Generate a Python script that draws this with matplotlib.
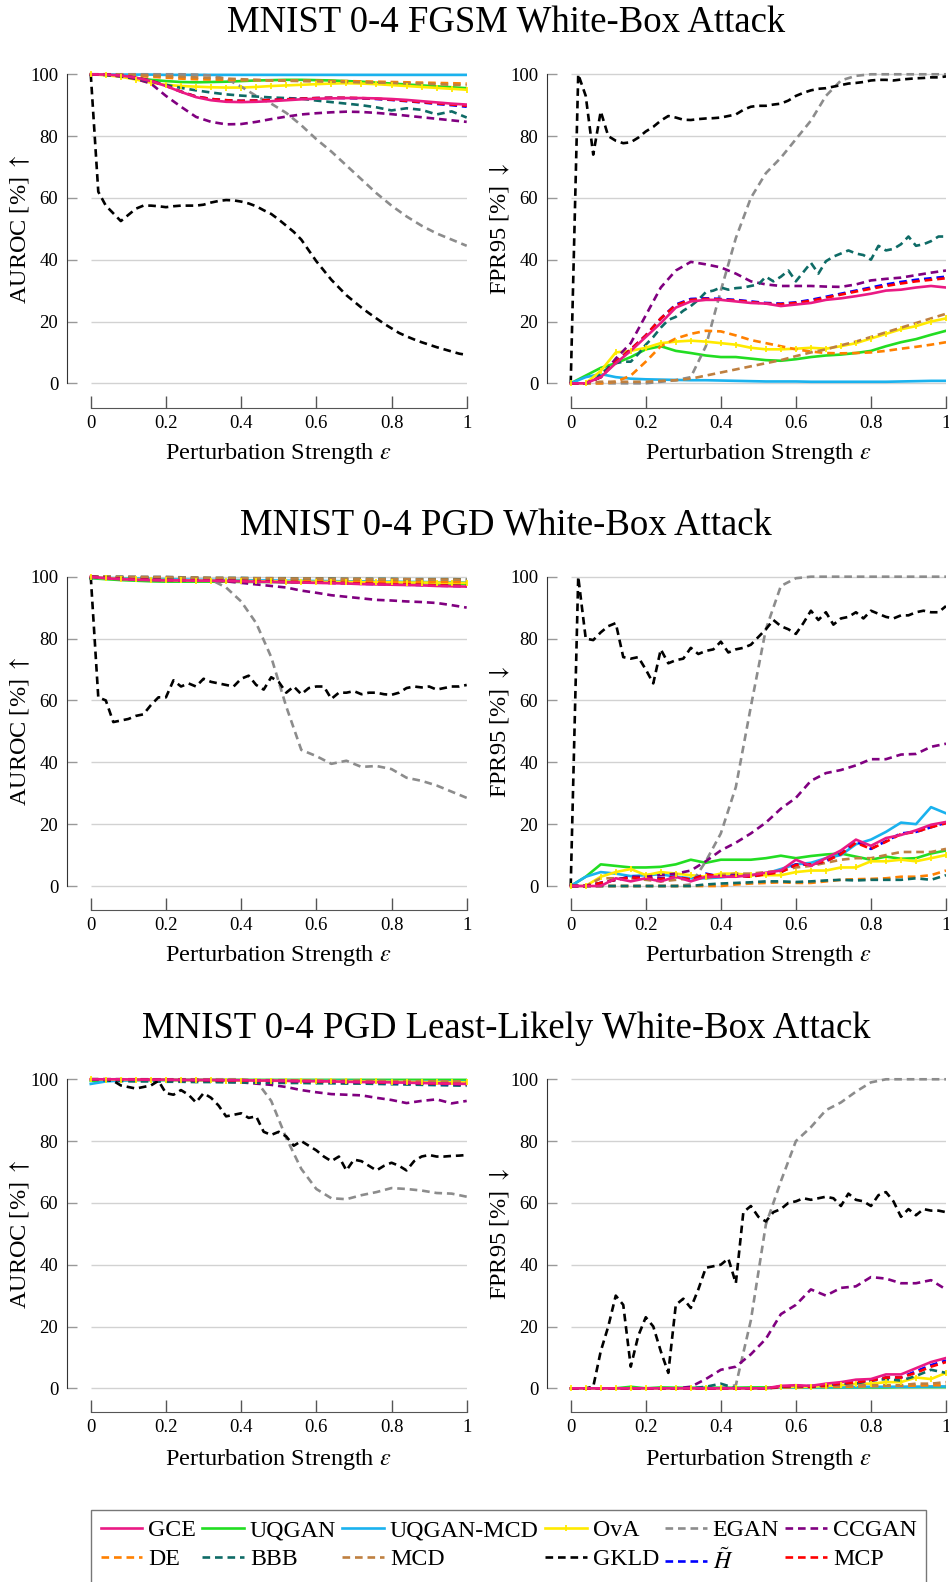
import numpy as np
import matplotlib
matplotlib.use("Agg")
import matplotlib.pyplot as plt
from matplotlib.lines import Line2D

plt.rcParams['font.family'] = ['Liberation Serif', 'DejaVu Serif']
plt.rcParams['mathtext.fontset'] = 'stix'
plt.rcParams['lines.scale_dashes'] = False

titles = ['MNIST 0-4 FGSM White-Box Attack',
          'MNIST 0-4 PGD White-Box Attack',
          'MNIST 0-4 PGD Least-Likely White-Box Attack']
metrics = [r'AUROC [%] $\uparrow$', r'FPR95 [%] $\downarrow$']
xlabel = r'Perturbation Strength $\epsilon$'
xtick_vals = [0, 0.2, 0.4, 0.6, 0.8, 1]
xtick_labels = ['0', '0.2', '0.4', '0.6', '0.8', '1']
ytick_vals = [0, 20, 40, 60, 80, 100]

methods = ['GCE', 'UQGAN', 'UQGAN-MCD', 'OvA', 'EGAN', 'CCGAN',
           'DE', 'BBB', 'MCD', 'GKLD', r'$\tilde{H}$', 'MCP']

# every list runs from eps=0 to eps=1 in equal steps (26 -> 0.04, 51 -> 0.02)

# --- FGSM, AUROC ---
fgsm_auroc_gce = [100, 99.9, 99.6, 98.9, 97.8, 96.2, 94.3, 92.6, 91.6, 91.1, 91.0, 91.1, 91.3,
                  91.6, 91.9, 92.1, 92.2, 92.3, 92.3, 92.2, 92.0, 91.7, 91.3, 90.9, 90.5, 90.2]
fgsm_auroc_uqgan = [100, 99.8, 99.4, 98.8, 98.2, 97.8, 97.5, 97.4, 97.5, 97.6, 97.8, 98.0, 98.1,
                    98.2, 98.2, 98.1, 98.0, 97.8, 97.6, 97.3, 97.0, 96.7, 96.4, 96.1, 95.8, 95.5]
fgsm_auroc_uqgan_mcd = [100, 99.9, 99.9, 99.9, 99.9, 99.8, 99.8, 99.8, 99.8, 99.8, 99.8, 99.8, 99.8,
                        99.8, 99.8, 99.8, 99.8, 99.8, 99.8, 99.8, 99.8, 99.8, 99.8, 99.8, 99.8, 99.8]
fgsm_auroc_ova = [100, 99.7, 99.2, 98.3, 97.3, 96.6, 96.2, 96.0, 95.8, 95.7, 95.7, 95.9, 96.2,
                  96.4, 96.6, 96.8, 97.0, 97.1, 97.0, 96.8, 96.5, 96.2, 95.9, 95.6, 95.3, 95.0]
fgsm_auroc_egan = [100, 100, 100, 100, 100, 100, 100, 99.9, 99.6, 98.6, 96.0, 93.0, 90.5,
                   87.5, 83.5, 79.0, 75.0, 70.5, 66.0, 61.5, 57.5, 54.0, 51.0, 48.5, 46.5, 44.5]
fgsm_auroc_ccgan = [100, 99.8, 99.3, 98.5, 97.0, 93.0, 89.5, 86.2, 84.6, 83.8, 83.9, 84.6, 85.5,
                    86.3, 87.0, 87.4, 87.7, 87.9, 87.8, 87.5, 87.1, 86.6, 86.1, 85.6, 85.1, 84.6]
fgsm_auroc_de = [100, 99.9, 99.7, 99.5, 99.2, 98.9, 98.6, 98.4, 98.3, 98.2, 98.1, 98.1, 98.0,
                 98.0, 97.9, 97.9, 97.8, 97.8, 97.7, 97.6, 97.5, 97.4, 97.3, 97.2, 97.1, 97.0]
fgsm_auroc_bbb = [100, 99.8, 99.4, 98.7, 97.7, 96.6, 95.6, 94.8, 94.1, 93.5, 93.1, 92.8, 92.5,
                  92.3, 92.1, 91.5, 91.0, 90.5, 90.0, 89.3, 88.3, 89.0, 88.5, 87.0, 88.0, 86.0]
fgsm_auroc_mcd = [100, 100, 99.9, 99.8, 99.6, 99.4, 99.2, 99.0, 98.8, 98.6, 98.4, 98.2, 98.0,
                  97.9, 97.8, 97.7, 97.6, 97.5, 97.4, 97.3, 97.2, 97.1, 97.0, 96.8, 96.6, 96.5]
fgsm_auroc_gkld = [100, 62, 57.5, 55, 52.5, 54.5, 56.5, 57.5, 57.5, 57.3, 57, 57.3, 57.5, 57.5,
                   57.5, 57.8, 58.5, 59, 59.3, 59.2, 58.8, 58.2, 57.3, 56, 54.8, 53, 51, 49, 46.5,
                   43, 39.5, 36.5, 33.5, 31, 28.5, 26.5, 24.5, 22.7, 21, 19.3, 17.8, 16.3, 15.2,
                   14.2, 13.3, 12.5, 11.7, 11, 10.3, 9.6, 9.2]
fgsm_auroc_htilde = [100, 99.9, 99.6, 98.9, 97.9, 96.3, 94.4, 92.8, 92.0, 91.6, 91.4, 91.5, 91.7,
                     91.9, 92.1, 92.3, 92.4, 92.3, 92.2, 92.0, 91.7, 91.3, 90.9, 90.4, 90.0, 89.5]
fgsm_auroc_mcp = [100, 99.9, 99.6, 98.9, 97.9, 96.3, 94.4, 92.8, 92.0, 91.6, 91.4, 91.5, 91.7,
                  91.9, 92.1, 92.3, 92.4, 92.4, 92.3, 92.1, 91.8, 91.4, 91.0, 90.6, 90.2, 89.8]

# --- FGSM, FPR95 ---
fgsm_fpr_gce = [0, 0, 2, 6.5, 10.5, 15, 19.5, 24.5, 26.5, 27, 27, 26.5, 26,
                25.8, 25, 25.5, 26, 27, 27.5, 28.2, 29, 30, 30.3, 31, 31.5, 31]
fgsm_fpr_uqgan = [0, 2.5, 5, 6.5, 8.5, 11, 12, 10.5, 9.8, 9, 8.5, 8.5, 8,
                  7.5, 7.3, 7.8, 8.5, 9, 9.3, 9.8, 10.5, 12, 13.3, 14.3, 15.7, 17]
fgsm_fpr_uqgan_mcd = [0, 2, 3, 2, 1.5, 1.3, 1.2, 1.1, 1, 1, 0.9, 0.8, 0.7,
                      0.6, 0.6, 0.6, 0.5, 0.5, 0.5, 0.5, 0.5, 0.5, 0.6, 0.7, 0.8, 0.8]
fgsm_fpr_ova = [0, 0, 4, 10, 10.5, 11.5, 13, 13.5, 13.8, 13.5, 13, 12.5, 11.5,
                11, 11, 11.2, 11.5, 11.2, 12, 13, 14.5, 16, 17.5, 18.5, 20, 21]
fgsm_fpr_egan = [0, 0, 0, 0, 0, 0, 0.5, 1, 2, 12, 30, 47, 60,
                 68, 73, 79, 85, 93, 98, 99.5, 100, 100, 100, 100, 100, 100]
fgsm_fpr_ccgan = [0, 0, 2, 8, 13, 22, 31, 36.5, 39.3, 38.5, 37.5, 35.5, 33,
                  32, 31.5, 31.5, 31.5, 31.3, 31.2, 32, 33.3, 33.8, 34.2, 35, 35.8, 36.5]
fgsm_fpr_de = [0, 0, 0, 0.5, 2.5, 7, 12, 14.5, 16, 17, 16.8, 15.5, 14,
               13, 12, 11, 10.3, 9.8, 9.7, 9.8, 10, 10.5, 11.2, 11.8, 12.5, 13.3]
fgsm_fpr_bbb = [0, 0, 0, 0.5, 3, 5, 6.5, 7, 7, 9.5, 12.5, 15, 18, 20.5, 21.5, 23.5, 25, 27,
                29.5, 30, 31, 30.3, 30.8, 31, 31.5, 32, 34.5, 33, 34.5, 36.5, 33, 36, 39, 35.5,
                39.5, 41, 42, 43, 42, 41.5, 40, 44.5, 43, 43.5, 45, 47.5, 44.5, 45, 46, 47.5, 47.5]
fgsm_fpr_mcd = [0, 0, 0.5, 0.5, 0.5, 0.5, 0.8, 1, 1.5, 2.5, 3.5, 4.5, 5.5,
                6.5, 7.5, 8.8, 10, 11, 12.3, 13.5, 15, 16.5, 18, 19.5, 21, 22.5]
fgsm_fpr_gkld = [0, 100, 93, 74, 88, 80, 78.5, 77.7, 78, 79.5, 81.5, 83, 85, 86.5, 86, 85.3,
                 85.2, 85.5, 85.7, 85.8, 86, 86.5, 87, 88.5, 89.5, 89.8, 89.8, 90.2, 90.5, 91.5,
                 93, 94, 94.8, 95.3, 95.5, 96, 96.5, 97, 97.2, 97.5, 98, 98.2, 98.2, 98, 98.3,
                 98.5, 98.7, 98.8, 99, 99, 99.3]
fgsm_fpr_htilde = [0, 0, 2, 7, 11, 15.5, 21, 25.5, 27.3, 27.5, 27.3, 27, 26.5,
                   26, 25.8, 26.2, 27, 28, 29, 30, 31, 32, 32.8, 33.5, 34, 34.5]
fgsm_fpr_mcp = [0, 0, 2, 7, 11, 15.5, 21, 25.3, 27, 27.3, 27.1, 26.8, 26.3,
                25.8, 25.6, 26, 26.7, 27.7, 28.7, 29.7, 30.6, 31.5, 32.3, 33, 33.5, 34]

# --- PGD, AUROC ---
pgd_auroc_gce = [100, 99.5, 99.2, 99.0, 98.9, 98.8, 98.8, 98.7, 98.7, 98.6, 98.5, 98.4, 98.3,
                 98.2, 98.1, 98.0, 97.9, 97.8, 97.6, 97.5, 97.4, 97.3, 97.2, 97.0, 96.9, 96.8]
pgd_auroc_uqgan = [99.5, 99.2, 98.9, 98.7, 98.5, 98.4, 98.4, 98.4, 98.4, 98.4, 98.3, 98.3, 98.3,
                   98.2, 98.2, 98.2, 98.1, 98.1, 98.0, 98.0, 98.0, 97.9, 97.9, 97.8, 97.8, 97.7]
pgd_auroc_uqgan_mcd = [99.6, 99.6, 99.5, 99.4, 99.3, 99.2, 99.1, 99.0, 99.0, 98.9, 98.9, 98.8, 98.8,
                       98.7, 98.7, 98.6, 98.6, 98.5, 98.5, 98.4, 98.4, 98.3, 98.3, 98.2, 98.2, 98.1]
pgd_auroc_ova = [99.8, 99.5, 99.3, 99.1, 99.0, 98.9, 98.8, 98.7, 98.7, 98.6, 98.6, 98.5, 98.5,
                 98.4, 98.4, 98.3, 98.3, 98.3, 98.2, 98.2, 98.2, 98.1, 98.1, 98.1, 98.0, 98.0]
pgd_auroc_egan = [100, 100, 100, 100, 100, 100, 99.8, 99.5, 99, 96.5, 92, 85, 74,
                  58, 44, 42, 39.5, 40.5, 38.5, 38.8, 37.8, 35, 34, 32.5, 30.5, 28.5]
pgd_auroc_ccgan = [100, 99.8, 99.6, 99.5, 99.3, 99.2, 99, 98.9, 98.8, 98.5, 98, 97.5, 97,
                   96.5, 95.5, 94.8, 94, 93.5, 93, 92.5, 92.3, 92, 91.8, 91.5, 90.8, 90]
pgd_auroc_de = [100, 99.9, 99.8, 99.7, 99.6, 99.5, 99.4, 99.3, 99.2, 99.1, 99.0, 98.9, 98.9,
                98.8, 98.8, 98.7, 98.7, 98.6, 98.6, 98.5, 98.5, 98.4, 98.4, 98.3, 98.3, 98.2]
pgd_auroc_bbb = [100, 99.9, 99.9, 99.8, 99.8, 99.7, 99.7, 99.7, 99.6, 99.6, 99.6, 99.5, 99.5,
                 99.5, 99.4, 99.4, 99.4, 99.3, 99.3, 99.3, 99.3, 99.2, 99.2, 99.2, 99.2, 99.1]
pgd_auroc_mcd = [100, 100, 99.9, 99.9, 99.8, 99.8, 99.7, 99.7, 99.6, 99.6, 99.5, 99.5, 99.5,
                 99.4, 99.4, 99.4, 99.3, 99.3, 99.3, 99.2, 99.2, 99.2, 99.1, 99.1, 99.1, 99.0]
pgd_auroc_gkld = [100, 61, 60, 53, 53.5, 54, 55, 55.5, 58.5, 61, 61, 66.5, 64.5, 65.5, 64.5, 67,
                  66, 65.5, 65, 64.5, 67, 68, 65, 63.5, 67.5, 66, 62.5, 64.5, 62, 64, 64.5, 64.5,
                  60.5, 62.5, 62.5, 63, 62, 62.5, 62.5, 62, 61.8, 62.5, 64, 64.5, 64.2, 64.5,
                  63.5, 64, 64.5, 64.5, 65]
pgd_auroc_htilde = [100, 99.6, 99.3, 99.1, 99.0, 98.9, 98.8, 98.8, 98.7, 98.7, 98.6, 98.5, 98.4,
                    98.3, 98.2, 98.1, 98.0, 97.9, 97.7, 97.6, 97.5, 97.4, 97.3, 97.1, 97.0, 96.9]
pgd_auroc_mcp = [100, 99.6, 99.3, 99.1, 99.0, 98.9, 98.8, 98.8, 98.7, 98.7, 98.6, 98.5, 98.4,
                 98.3, 98.2, 98.1, 98.0, 97.9, 97.8, 97.7, 97.6, 97.5, 97.4, 97.2, 97.1, 97.0]

# --- PGD, FPR95 ---
pgd_fpr_gce = [0, 0, 0, 2.5, 1.5, 2.5, 1.5, 3, 1.5, 3, 3, 3, 3.5,
               4.3, 5, 8.5, 6.5, 9, 11.5, 15, 13, 15.5, 16.5, 18, 19.8, 20.7]
pgd_fpr_uqgan = [0, 3, 7, 6.5, 6, 6, 6.2, 7, 8.5, 7.5, 8.5, 8.5, 8.5,
                 9, 9.8, 9, 9.7, 10.2, 10.5, 9.5, 8.5, 9.5, 8.8, 9, 10.5, 11.5]
pgd_fpr_uqgan_mcd = [0, 3, 4.5, 4, 3.2, 3.5, 3.8, 3, 2.5, 2.5, 2.8, 3.3, 3.5,
                     4, 5.5, 7, 7.5, 9, 10, 13.5, 15, 17.5, 20.5, 20, 25.5, 23.5]
pgd_fpr_ova = [0, 0, 3, 4.5, 5.5, 3.5, 4.5, 4, 3.5, 3, 4, 4, 3.5,
               3.5, 3.5, 4.5, 5, 5, 6, 6, 8, 8, 8.5, 8, 9, 10]
pgd_fpr_egan = [0, 0, 0, 0, 0, 0, 0, 0, 0.5, 8, 17, 32, 58,
                83, 97, 99.5, 100, 100, 100, 100, 100, 100, 100, 100, 100, 100]
pgd_fpr_ccgan = [0, 0, 1, 2, 3, 3, 3.5, 4, 5, 8, 11.5, 14, 17,
                 20.5, 25, 28.5, 34, 36.5, 37.5, 39, 41, 41, 42.5, 42.7, 45, 46]
pgd_fpr_de = [0, 0, 0, 0, 0, 0, 0, 0, 0, 0, 0, 0.5, 0.8,
              1, 1.2, 1, 1, 1.5, 2, 2.2, 2.3, 2.5, 3, 3, 3.5, 5]
pgd_fpr_bbb = [0, 0, 0, 0, 0, 0, 0, 0, 0, 0.5, 0.8, 1, 1.2,
               1.5, 1.5, 1.3, 1.5, 1.8, 2, 1.8, 2, 2, 2, 2.5, 2, 3.5]
pgd_fpr_mcd = [0, 0, 2.5, 2.5, 2.5, 2, 1.5, 2, 2.5, 2.5, 3.5, 4, 4,
               4.5, 5, 6, 6.5, 7.5, 8.5, 9, 9, 10, 11, 11, 11, 12]
pgd_fpr_gkld = [0, 100, 80, 79.5, 82, 84, 85, 74, 73.5, 74, 70, 65.5, 76.5, 72, 73, 73.5, 77,
                75, 76, 76.5, 79, 75.5, 76.5, 77, 78, 80.5, 83, 86, 84, 83, 81.5, 85, 89, 86,
                88.5, 84.5, 86.5, 87, 88.5, 86.5, 89, 88, 87, 86.5, 87.5, 87.5, 88.5, 89, 88.5,
                88.5, 90.5]
pgd_fpr_htilde = [0, 0, 1, 2, 3, 2.5, 2.5, 3, 2, 4, 3, 3.5, 3,
                  4, 4.5, 7, 7, 8, 10.5, 14.5, 12, 14.5, 17, 17.5, 19, 20.5]
pgd_fpr_mcp = [0, 0, 1, 2, 2.8, 2.5, 2.3, 3, 2, 3.8, 3, 3.3, 3,
               3.8, 4.5, 6.8, 7, 8, 10.3, 14, 12, 14.3, 16.8, 17.5, 19, 20.3]

# --- PGD least-likely, AUROC ---
pgdll_auroc_gce = [100, 100, 100, 99.9, 99.9, 99.9, 99.8, 99.8, 99.8, 99.7, 99.7, 99.6, 99.6,
                   99.5, 99.4, 99.4, 99.3, 99.2, 99.1, 99.1, 99.0, 98.9, 98.8, 98.7, 98.6, 98.5]
pgdll_auroc_uqgan = [99.5, 99.6, 99.7, 99.8, 99.8, 99.8, 99.8, 99.8, 99.8, 99.8, 99.8, 99.8, 99.8,
                     99.8, 99.8, 99.8, 99.8, 99.8, 99.8, 99.8, 99.8, 99.8, 99.8, 99.8, 99.8, 99.8]
pgdll_auroc_uqgan_mcd = [98.5, 99.3, 99.6, 99.7, 99.7, 99.7, 99.7, 99.7, 99.7, 99.7, 99.6, 99.6, 99.6,
                         99.6, 99.5, 99.5, 99.5, 99.5, 99.4, 99.4, 99.4, 99.3, 99.3, 99.3, 99.2, 99.2]
pgdll_auroc_ova = [100, 99.9, 99.9, 99.8, 99.8, 99.8, 99.7, 99.7, 99.7, 99.6, 99.6, 99.6, 99.5,
                   99.5, 99.5, 99.4, 99.4, 99.3, 99.3, 99.3, 99.2, 99.2, 99.1, 99.1, 99.0, 99.0]
pgdll_auroc_egan = [100, 100, 100, 100, 100, 100, 100, 100, 100, 100, 100, 99.5, 93,
                    81, 71, 64.5, 61.5, 61.2, 62.5, 63.5, 64.8, 64.5, 64, 63.2, 63, 62]
pgdll_auroc_ccgan = [100, 100, 100, 100, 100, 99.8, 99.7, 99.5, 99.3, 99.2, 99, 98.6, 98.2,
                     97.5, 96.5, 95.8, 95.2, 95, 94.8, 94, 93.3, 92.3, 93, 93.5, 92.2, 93]
pgdll_auroc_de = [100, 100, 99.9, 99.9, 99.9, 99.8, 99.8, 99.8, 99.7, 99.7, 99.7, 99.6, 99.6,
                  99.6, 99.5, 99.5, 99.5, 99.4, 99.4, 99.3, 99.3, 99.3, 99.2, 99.2, 99.1, 99.1]
pgdll_auroc_bbb = [100, 99.6, 99.4, 99.3, 99.3, 99.2, 99.2, 99.1, 99.1, 99.0, 99.0, 98.9, 98.9,
                   98.8, 98.8, 98.7, 98.7, 98.6, 98.6, 98.5, 98.4, 98.3, 98.2, 98.1, 98.0, 97.9]
pgdll_auroc_mcd = [100, 100, 100, 99.9, 99.9, 99.9, 99.9, 99.8, 99.8, 99.8, 99.8, 99.7, 99.7,
                   99.7, 99.6, 99.6, 99.6, 99.5, 99.5, 99.5, 99.4, 99.4, 99.4, 99.3, 99.3, 99.3]
pgdll_auroc_gkld = [100, 100, 100, 99.5, 98, 97.5, 97, 97.5, 98, 99.5, 95.5, 95, 96.5, 95, 92.5,
                    95.5, 94, 91.5, 88, 88.5, 89, 87.5, 88, 83, 82, 83, 81.5, 78.5, 80, 78.5, 77,
                    75, 73.5, 75, 70.5, 74, 73.5, 72, 70.5, 72, 73, 72, 70.5, 73.5, 75, 75.5, 75,
                    75, 75.2, 75.3, 75.5]
pgdll_auroc_htilde = [100, 100, 100, 99.9, 99.9, 99.8, 99.8, 99.7, 99.7, 99.6, 99.6, 99.5, 99.5,
                      99.4, 99.3, 99.3, 99.2, 99.1, 99.0, 98.9, 98.8, 98.7, 98.6, 98.5, 98.4, 98.3]
pgdll_auroc_mcp = [100, 100, 100, 99.9, 99.9, 99.8, 99.8, 99.7, 99.7, 99.6, 99.6, 99.5, 99.5,
                   99.4, 99.4, 99.3, 99.2, 99.1, 99.1, 99.0, 98.9, 98.8, 98.7, 98.6, 98.5, 98.4]

# --- PGD least-likely, FPR95 ---
pgdll_fpr_gce = [0, 0, 0, 0, 0, 0, 0, 0, 0, 0, 0, 0, 0,
                 0, 0.8, 1, 0.8, 1.5, 2, 2.8, 3, 4.5, 4.5, 6.5, 8.5, 9.8]
pgdll_fpr_uqgan = [0, 0, 0, 0, 0.5, 0, 0.3, 0.2, 0.2, 0.2, 0.2, 0.2, 0.3,
                   0.3, 0.3, 0.3, 0.3, 0.3, 0.3, 0.3, 0.3, 0.3, 0.4, 0.4, 0.4, 0.4]
pgdll_fpr_uqgan_mcd = [0, 0, 0, 0, 0, 0, 0, 0, 0, 0, 0, 0, 0,
                       0, 0.3, 0.3, 0.3, 0.4, 0.4, 0.4, 0.5, 0.5, 0.5, 0.5, 0.6, 0.6]
pgdll_fpr_ova = [0, 0, 0, 0, 0, 0, 0, 0, 0, 0, 0, 0, 0,
                 0, 0.5, 0.5, 0.5, 0.8, 1, 1.5, 1.5, 2, 2, 3.5, 3, 5]
pgdll_fpr_egan = [0, 0, 0, 0, 0, 0, 0, 0, 0, 0, 0, 1, 22,
                  53, 67, 80, 84.5, 90, 92.5, 96, 99, 100, 100, 100, 100, 100]
pgdll_fpr_ccgan = [0, 0, 0, 0, 0, 0, 0, 0, 0.5, 3, 6, 7, 11,
                   16, 24, 27, 32, 30, 32.5, 33, 36, 35.5, 34, 34, 35, 32]
pgdll_fpr_de = [0, 0, 0, 0, 0, 0, 0, 0, 0, 0, 0, 0, 0,
                0, 0.3, 0.3, 0.4, 0.5, 0.5, 0.6, 0.7, 0.8, 0.8, 0.9, 1, 1]
pgdll_fpr_bbb = [0, 0, 0, 0, 0, 0, 0, 0, 0, 0.5, 1.5, 0, 0,
                 0, 0.5, 0.5, 0.8, 1, 1.5, 1.5, 2.5, 3, 2.5, 4, 6, 5]
pgdll_fpr_mcd = [0, 0, 0, 0, 0, 0, 0, 0, 0, 0, 0, 0, 0,
                 0, 0.5, 0.5, 0.5, 0.7, 0.8, 1, 1, 1, 1, 1.5, 1.5, 2]
pgdll_fpr_gkld = [0, 0, 0, 0.5, 12, 20, 30, 27, 7, 17, 23, 20, 12, 5, 27, 29, 26, 32, 39, 39.5,
                  40, 42, 34, 57, 59, 55.5, 54, 57, 58, 60, 60.5, 61.5, 61, 61.5, 62, 61.5, 59,
                  63, 61, 60.5, 59, 62.5, 63.5, 60.5, 55.5, 58, 56, 58, 57.5, 57.5, 57]
pgdll_fpr_htilde = [0, 0, 0, 0, 0, 0, 0, 0, 0, 0, 0, 0, 0,
                    0, 0.5, 0.8, 0.5, 1, 1.5, 2, 2.5, 3.5, 3.5, 5.5, 7.5, 9]
pgdll_fpr_mcp = [0, 0, 0, 0, 0, 0, 0, 0, 0, 0, 0, 0, 0,
                 0, 0.5, 0.8, 0.5, 1, 1.5, 2, 2.5, 3.5, 3.5, 5, 7, 8.5]

panels = [
    [fgsm_auroc_gce, fgsm_auroc_uqgan, fgsm_auroc_uqgan_mcd, fgsm_auroc_ova, fgsm_auroc_egan,
     fgsm_auroc_ccgan, fgsm_auroc_de, fgsm_auroc_bbb, fgsm_auroc_mcd, fgsm_auroc_gkld,
     fgsm_auroc_htilde, fgsm_auroc_mcp],
    [fgsm_fpr_gce, fgsm_fpr_uqgan, fgsm_fpr_uqgan_mcd, fgsm_fpr_ova, fgsm_fpr_egan,
     fgsm_fpr_ccgan, fgsm_fpr_de, fgsm_fpr_bbb, fgsm_fpr_mcd, fgsm_fpr_gkld,
     fgsm_fpr_htilde, fgsm_fpr_mcp],
    [pgd_auroc_gce, pgd_auroc_uqgan, pgd_auroc_uqgan_mcd, pgd_auroc_ova, pgd_auroc_egan,
     pgd_auroc_ccgan, pgd_auroc_de, pgd_auroc_bbb, pgd_auroc_mcd, pgd_auroc_gkld,
     pgd_auroc_htilde, pgd_auroc_mcp],
    [pgd_fpr_gce, pgd_fpr_uqgan, pgd_fpr_uqgan_mcd, pgd_fpr_ova, pgd_fpr_egan,
     pgd_fpr_ccgan, pgd_fpr_de, pgd_fpr_bbb, pgd_fpr_mcd, pgd_fpr_gkld,
     pgd_fpr_htilde, pgd_fpr_mcp],
    [pgdll_auroc_gce, pgdll_auroc_uqgan, pgdll_auroc_uqgan_mcd, pgdll_auroc_ova, pgdll_auroc_egan,
     pgdll_auroc_ccgan, pgdll_auroc_de, pgdll_auroc_bbb, pgdll_auroc_mcd, pgdll_auroc_gkld,
     pgdll_auroc_htilde, pgdll_auroc_mcp],
    [pgdll_fpr_gce, pgdll_fpr_uqgan, pgdll_fpr_uqgan_mcd, pgdll_fpr_ova, pgdll_fpr_egan,
     pgdll_fpr_ccgan, pgdll_fpr_de, pgdll_fpr_bbb, pgdll_fpr_mcd, pgdll_fpr_gkld,
     pgdll_fpr_htilde, pgdll_fpr_mcp],
]

colors = ['#ea1a84', '#22dd22', '#1ab2ee', '#ffea00', '#8c8c8c', '#800080',
          '#ff8000', '#0e6b66', '#bf8040', '#000000', '#0000ff', '#ff0000']
solid = [True, True, True, True, False, False, False, False, False, False, False, False]
dash = (5.5, 3.5)

# GCE goes on top, OvA ticks above everything
draw_order = [1, 2, 3, 4, 5, 6, 7, 8, 9, 10, 11, 0]

fig = plt.figure(figsize=(9.49, 15.82), dpi=100)
W, H = 949, 1582

# axes rectangles in pixels: left/right per column, top/bottom per row
col_px = [(66.7, 466.7), (546.7, 946.0)]
row_px = [(68.1, 389.5), (570.5, 892.2), (1073.1, 1394.5)]
title_y = [23, 526, 1029]
xspine_px = [408, 910, 1412]
xlabel_y = [454, 956, 1459]
xmin = -0.064

for r in range(3):
    top, bot = row_px[r]
    fig.text(506 / W, 1 - title_y[r] / H, titles[r], ha='center', va='center', fontsize=26.5)
    for c in range(2):
        left, right = col_px[c]
        ax = fig.add_axes([left / W, 1 - bot / H, (right - left) / W, (bot - top) / H])
        series = panels[2 * r + c]
        for i in draw_order:
            vals = series[i]
            x = np.linspace(0, 1, len(vals))
            if solid[i]:
                ax.plot(x, vals, color=colors[i], lw=1.9, solid_joinstyle='round')
            else:
                ax.plot(x, vals, color=colors[i], lw=1.9, dashes=dash)
        ova = series[3]
        ax.plot(np.linspace(0, 1, len(ova)), ova, ls='none', marker='|', ms=4.5,
                mew=1.3, color=colors[3])

        ax.hlines(ytick_vals, 0, 1, colors='#d2d2d2', lw=1.0, zorder=0)
        ax.set_xlim(xmin, 1.0)
        ax.set_ylim(-2, 102)
        ax.spines[['top', 'right']].set_visible(False)
        ax.spines['left'].set_bounds(0, 100)
        ax.spines['left'].set_color('#333333')
        ax.spines['bottom'].set_bounds(0, 1)
        ax.spines['bottom'].set_color('#555555')
        ax.spines['bottom'].set_position(('outward', (xspine_px[r] - bot) * 0.72))
        ax.set_yticks(ytick_vals)
        ax.set_xticks(xtick_vals, xtick_labels)
        ax.tick_params(axis='y', direction='in', length=7, color='#999999', width=1.0,
                       pad=6, labelsize=13.5)
        ax.tick_params(axis='x', direction='in', length=8.5, color='#555555', width=1.0,
                       pad=5, labelsize=13.5)
        ax.set_ylabel(metrics[c], fontsize=17.5)
        ax.yaxis.set_label_coords(-0.115, 0.5)
        ax.yaxis.label.set_va('center')
        ax.set_xlabel(xlabel, fontsize=17.5)
        # centre the x label under the data span, not the whole axes
        ax.xaxis.set_label_coords((0.5 - xmin) / (1 - xmin), -(xlabel_y[r] - bot) / (bot - top))
        ax.xaxis.label.set_va('center')

handles = []
for i in range(len(methods)):
    if i == 3:
        h = Line2D([], [], color=colors[i], lw=1.9, marker='|', ms=4.5, mew=1.3)
    elif solid[i]:
        h = Line2D([], [], color=colors[i], lw=1.9)
    else:
        h = Line2D([], [], color=colors[i], lw=1.9, dashes=dash)
    handles.append(h)

# ncol fills column by column
legend_order = [0, 6, 1, 7, 2, 8, 3, 9, 4, 10, 5, 11]
leg = fig.legend([handles[i] for i in legend_order], [methods[i] for i in legend_order],
                 ncol=6, loc='upper left', bbox_to_anchor=(91 / W, 1 - 1510 / H),
                 fontsize=17.2, frameon=True, fancybox=False, edgecolor='#555555',
                 handlelength=1.75, handletextpad=0.25, columnspacing=0.25,
                 labelspacing=0.3, borderpad=0.4, borderaxespad=0, numpoints=1)
leg.get_frame().set_linewidth(1.0)

fig.savefig('out.png', dpi=100)
